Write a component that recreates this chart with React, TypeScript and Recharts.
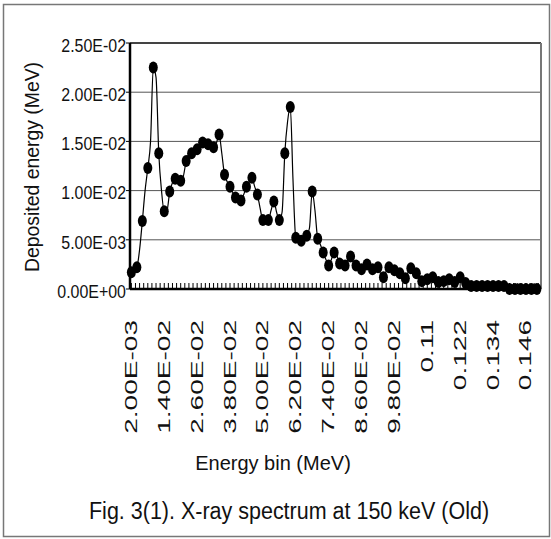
import { LineChart, Line, XAxis, YAxis, CartesianGrid, ReferenceLine } from "recharts"

// energy bins in keV (2 keV .. 151 keV, 1 keV wide)
const BINS_KEV = Array.from({ length: 150 }, (_, i) => i + 2)

// axis tick marks every 1.5 keV, a label on every 8th one
const TICK_KEV = Array.from({ length: 100 }, (_, i) => 2 + i * 1.5)

// deposited energy per bin (MeV)
const DEPOSITED = [
  0.0017, 0.0019, 0.0022, 0.004, 0.0069, 0.01, 0.0123, 0.015, 0.0225, 0.0215,
  0.0138, 0.01, 0.0079, 0.008, 0.0099, 0.0108, 0.0112, 0.0111, 0.011, 0.0115,
  0.013, 0.0137, 0.0138, 0.014, 0.0142, 0.0145, 0.0149, 0.0148, 0.0147, 0.0146,
  0.0144, 0.0148, 0.0157, 0.0138, 0.0116, 0.0109, 0.0104, 0.0098, 0.0093, 0.0091,
  0.009, 0.0096, 0.0104, 0.0109, 0.0113, 0.0104, 0.0096, 0.0082, 0.007, 0.007,
  0.007, 0.008, 0.0089, 0.0078, 0.007, 0.0078, 0.0138, 0.017, 0.0185, 0.011,
  0.0052, 0.0049, 0.0049, 0.0051, 0.0054, 0.0062, 0.0099, 0.008, 0.0051, 0.0045,
  0.0037, 0.003, 0.0024, 0.003, 0.0037, 0.0034, 0.0026, 0.0024, 0.0024, 0.003,
  0.0033, 0.0027, 0.0024, 0.0021, 0.002, 0.0023, 0.0025, 0.0022, 0.002, 0.0021,
  0.0022, 0.0015, 0.0012, 0.0018, 0.0022, 0.0021, 0.0019, 0.0017, 0.0016, 0.0013,
  0.0011, 0.0017, 0.0021, 0.0018, 0.0016, 0.0009, 0.0008, 0.0008, 0.001, 0.0013,
  0.0012, 0.0008, 0.0007, 0.0007, 0.0008, 0.001, 0.001, 0.0008, 0.0007, 0.001,
  0.0012, 0.0009, 0.0006, 0.0003, 0.0003, 0.0003, 0.0003, 0.0003, 0.0003, 0.0003,
  0.0003, 0.0003, 0.0003, 0.0003, 0.0003, 0.0003, 0.0003, 0.0003, 0, 0,
  0, 0, 0, 0, 0, 0, 0, 0, 0, 0,
]

const X_LABELS = [
  "2.00E-03", "1.40E-02", "2.60E-02", "3.80E-02", "5.00E-02", "6.20E-02", "7.40E-02",
  "8.60E-02", "9.80E-02", "0.11", "0.122", "0.134", "0.146",
]

const Y_TICKS = [0, 0.005, 0.01, 0.015, 0.02, 0.025]
const Y_LABELS = ["0.00E+00", "5.00E-03", "1.00E-02", "1.50E-02", "2.00E-02", "2.50E-02"]

const data = BINS_KEV.map((kev, i) => ({ kev, value: DEPOSITED[i] }))

const FONT = '"Liberation Sans", Arial, sans-serif'

function XTick(props: any) {
  const { x, y, payload } = props
  const k = TICK_KEV.indexOf(payload.value)
  const label = k % 8 === 0 ? X_LABELS[k / 8] : null
  return (
    <g>
      <line x1={x} x2={x} y1={y} y2={y - 6} stroke="#000" strokeWidth={1} />
      {label && (
        <text
          transform={`translate(${x + 5.5},320) rotate(-90) scale(1.7,1)`}
          textAnchor="end"
          fontSize={16.5}
          fontFamily={FONT}
          fill="#111"
        >
          {label}
        </text>
      )}
    </g>
  )
}

function YTick(props: any) {
  const { x, y, payload } = props
  const label = Y_LABELS[Y_TICKS.indexOf(payload.value)]
  return (
    <text
      transform={`translate(${x},${y + 2}) scale(0.84,1)`}
      textAnchor="end"
      dy="0.36em"
      fontSize={19}
      fontFamily={FONT}
      fill="#111"
    >
      {label}
    </text>
  )
}

// the old-data markers sit on every second bin
function Marker(p: any) {
  if (p.index % 2 !== 0) return <g key={p.index} />
  return <ellipse key={p.index} cx={p.cx} cy={p.cy} rx={4.5} ry={6} fill="#000" />
}

export default function App() {
  return (
    <div style={{ position: "absolute", left: 0, top: 0, width: 551, height: 539, background: "#fff" }}>
      <LineChart width={551} height={539} data={data} margin={{ top: 43, right: 10, bottom: 220, left: 0 }}>
        <CartesianGrid horizontal vertical={false} stroke="#555" strokeWidth={1} />
        <XAxis
          dataKey="kev"
          type="number"
          domain={[1.5, 151.5]}
          ticks={TICK_KEV}
          interval={0}
          height={30}
          tickSize={0}
          tickMargin={0}
          tickLine={false}
          tick={<XTick />}
          axisLine={{ stroke: "#000", strokeWidth: 2.5 }}
        />
        <YAxis
          type="number"
          domain={[0, 0.025]}
          ticks={Y_TICKS}
          width={130}
          tickSize={4}
          tickMargin={0}
          tickLine={{ stroke: "#000" }}
          tick={<YTick />}
          axisLine={{ stroke: "#000", strokeWidth: 2.5 }}
        />
        <ReferenceLine y={0.025} stroke="#222" strokeWidth={1.5} />
        <ReferenceLine x={151.5} stroke="#777" strokeWidth={2} />
        <Line
          type="monotone"
          dataKey="value"
          stroke="#000"
          strokeWidth={1.2}
          isAnimationActive={false}
          dot={Marker}
          activeDot={false}
        />
      </LineChart>
      <svg width={551} height={539} style={{ position: "absolute", left: 0, top: 0, pointerEvents: "none" }}>
        <rect x={3.5} y={4.5} width={546} height={532} fill="none" stroke="#777" strokeWidth={1.5} />
        <text
          transform="translate(39,167) rotate(-90) scale(1,1.05)"
          textAnchor="middle"
          fontSize={19.4}
          fontFamily={FONT}
          fill="#111"
        >
          Deposited energy (MeV)
        </text>
        <text x={273} y={470} textAnchor="middle" fontSize={20} fontFamily={FONT} fill="#111">
          Energy bin  (MeV)
        </text>
        <text
          transform="translate(289,519) scale(1,1.15)"
          textAnchor="middle"
          fontSize={21.5}
          fontFamily={FONT}
          fill="#111"
        >
          Fig. 3(1). X-ray spectrum at 150 keV (Old)
        </text>
      </svg>
    </div>
  )
}
